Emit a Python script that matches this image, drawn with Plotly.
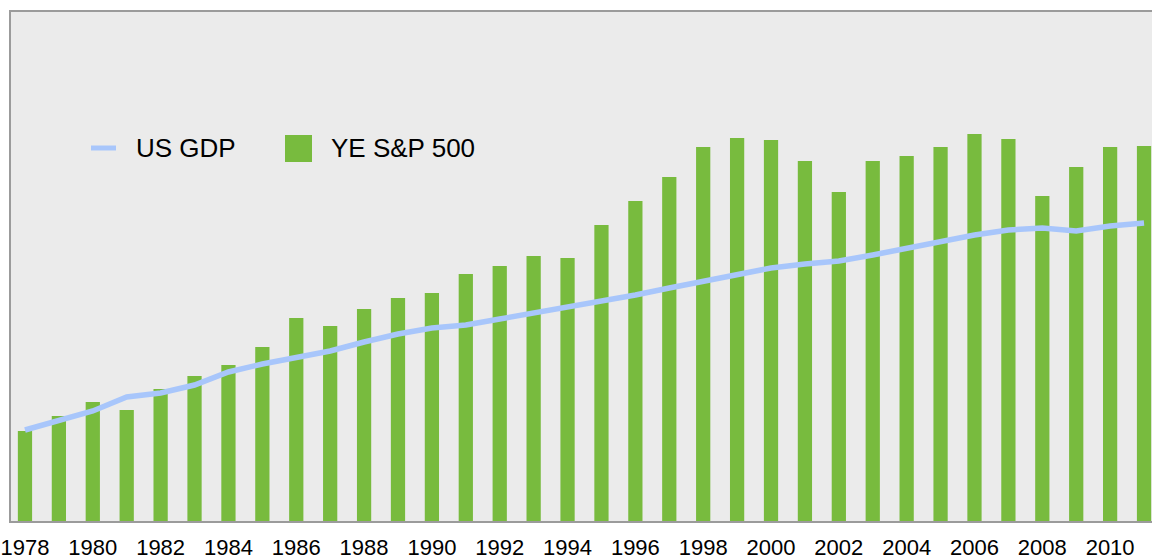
import plotly.graph_objects as go

years = list(range(1978, 2012))
# Values (index units, baseline 0)
sp500 = [90, 105, 119, 111, 132, 145, 156, 174, 203, 195, 212, 223, 228, 247, 255, 265, 263,
         296, 320, 344, 374, 383, 381, 360, 329, 360, 365, 374, 387, 382, 325, 354, 374, 375]
gdp = [91, 101, 110, 124, 128, 136, 149, 157, 163, 170, 179, 187, 193, 196, 202, 208, 214,
       219, 226, 233, 240, 246, 253, 257, 260, 266, 273, 279, 286, 291, 293, 290, 295, 298]
tick_years = list(range(1978, 2011, 2))
tick_labels = [str(y) for y in tick_years]
series_names = ["US GDP", "YE S&P 500"]

GREEN = "#78bb3e"
BLUE = "#a8c6fb"
FONT = "Liberation Sans, Arial, Helvetica, sans-serif"

fig = go.Figure()
fig.add_trace(go.Bar(x=years, y=sp500, name=series_names[1], marker=dict(color=GREEN, line=dict(width=0)),
                     width=0.42, showlegend=False))
fig.add_trace(go.Scatter(x=years, y=gdp, name=series_names[0], mode="lines",
                         line=dict(color=BLUE, width=5.5), showlegend=False))

L, T, B = 11, 12, 39
W, H = 1152, 560
pw = W - L
ph = H - T - B

def px_x(p):
    return (p - L) / pw

def px_y(p):
    return (H - B - p) / ph

shapes = [
    dict(type="line", xref="paper", yref="paper", x0=px_x(91), x1=px_x(116), y0=px_y(148), y1=px_y(148),
         line=dict(color=BLUE, width=5)),
    dict(type="rect", xref="paper", yref="paper", x0=px_x(285), x1=px_x(312), y0=px_y(162), y1=px_y(135),
         fillcolor=GREEN, line=dict(width=0)),
]
annotations = [
    dict(text=series_names[0], xref="paper", yref="paper", x=px_x(134), y=px_y(148), xanchor="left",
         yanchor="middle", showarrow=False, font=dict(family=FONT, size=26, color="#000")),
    dict(text=series_names[1], xref="paper", yref="paper", x=px_x(329), y=px_y(148), xanchor="left",
         yanchor="middle", showarrow=False, font=dict(family=FONT, size=26, color="#000")),
]

fig.update_layout(
    width=W, height=H,
    margin=dict(l=L, r=0, t=T, b=B, pad=0, autoexpand=False),
    paper_bgcolor="white",
    plot_bgcolor="#ebebeb",
    showlegend=False,
    shapes=shapes,
    annotations=annotations,
    font=dict(family=FONT, color="#000"),
)
fig.update_xaxes(range=[1977.588, 2011.235], tickmode="array", tickvals=tick_years, ticktext=tick_labels,
                 showgrid=False, zeroline=False, showline=True, linecolor="#9b9b9b", linewidth=2, mirror=True,
                 ticks="", tickfont=dict(family=FONT, size=22, color="#000"), ticklabelstandoff=6,
                 ticklabeloverflow="allow", automargin=False)
fig.update_yaxes(range=[0, ph], showgrid=False, zeroline=False, showline=True, linecolor="#9b9b9b",
                 linewidth=2, showticklabels=False, ticks="", automargin=False)

fig.write_html("out.html", config={"displayModeBar": False},
               post_script="document.body.style.margin='0';document.body.style.overflow='hidden';")
